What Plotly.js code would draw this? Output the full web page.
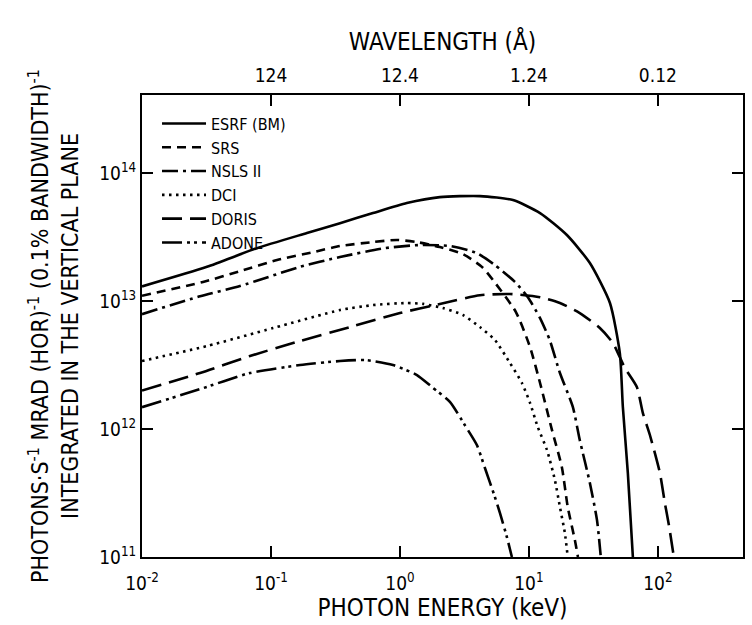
<!DOCTYPE html>
<html><head><meta charset="utf-8">
<script src="https://cdn.plot.ly/plotly-3.0.1.min.js"></script>
<style>html,body{margin:0;padding:0;background:#fff}</style>
</head><body><div id="chart" style="width:752px;height:625px"></div>
<script>
// Source names (legend)
const sourceNames = ['ESRF (BM)', 'SRS', 'NSLS II', 'DCI', 'DORIS', 'ADONE'];

// Photon energy (keV) and flux (photons s^-1 mrad^-1 (0.1% bw)^-1)
const esrfEnergy = [0.01, 0.0319, 0.0779, 0.190, 0.343, 0.618, 1.13, 2.04, 4.17, 7.52, 12.2, 19.7, 29.7, 42.5, 50.7, 53.5, 58.5, 64.0];
const esrfFlux   = [1.30e13, 1.85e13, 2.59e13, 3.40e13, 4.06e13, 4.87e13, 5.83e13, 6.49e13, 6.61e13, 6.15e13, 4.87e13, 3.28e13, 1.98e13, 9.65e12, 3.92e12, 1.49e12, 4.53e11, 1.0e11];

const srsEnergy = [0.01, 0.0297, 0.0575, 0.1115, 0.212, 0.343, 0.618, 0.948, 1.355, 2.04, 3.08, 4.32, 5.26, 7.93, 10.2, 12.2, 15.1, 18.0, 20.0, 22.7, 24.0];
const srsFlux   = [1.10e13, 1.41e13, 1.71e13, 2.09e13, 2.41e13, 2.69e13, 2.89e13, 3.00e13, 2.89e13, 2.64e13, 2.33e13, 1.85e13, 1.46e13, 8.2e12, 4.37e12, 2.29e12, 9.8e11, 5.05e11, 2.46e11, 1.36e11, 1.0e11];

const nslsEnergy = [0.01, 0.0282, 0.0575, 0.168, 0.343, 0.766, 1.43, 2.44, 3.95, 5.45, 7.79, 9.82, 12.2, 14.5, 17.4, 21.9, 24.8, 29.7, 33.7, 36.1];
const nslsFlux   = [7.9e12, 1.09e13, 1.31e13, 1.85e13, 2.21e13, 2.59e13, 2.74e13, 2.69e13, 2.37e13, 1.91e13, 1.41e13, 1.07e13, 7.36e12, 4.96e12, 2.74e12, 1.49e12, 8.2e11, 3.79e11, 1.95e11, 1.0e11];

const dciEnergy = [0.01, 0.0319, 0.1038, 0.343, 0.618, 1.13, 1.51, 2.15, 3.08, 4.17, 5.45, 7.13, 8.83, 10.2, 11.7, 13.8, 15.9, 17.4, 19.0, 20.0];
const dciFlux   = [3.4e12, 4.45e12, 6.15e12, 8.5e12, 9.3e12, 9.65e12, 9.5e12, 8.82e12, 7.78e12, 6.26e12, 4.96e12, 3.28e12, 2.29e12, 1.60e12, 1.04e12, 6.86e11, 4.0e11, 2.46e11, 1.54e11, 1.0e11];

const dorisEnergy = [0.01, 0.0282, 0.0687, 0.168, 0.409, 1.0, 2.04, 4.17, 7.13, 12.2, 17.4, 24.8, 35.5, 44.8, 55.5, 68.7, 76.5, 86.7, 103.7, 113.3, 121.7, 133];
const dorisFlux   = [2.0e12, 2.74e12, 3.72e12, 4.87e12, 6.26e12, 8.06e12, 9.48e12, 1.11e13, 1.135e13, 1.07e13, 9.65e12, 8.06e12, 6.15e12, 4.70e12, 3.0e12, 2.13e12, 1.33e12, 8.98e11, 4.53e11, 2.64e11, 1.78e11, 1.0e11];

const adoneEnergy = [0.01, 0.0282, 0.0687, 0.168, 0.343, 0.536, 0.883, 1.355, 1.77, 2.44, 3.19, 3.95, 4.56, 5.45, 5.96, 6.75, 7.38];
const adoneFlux   = [1.48e12, 2.05e12, 2.74e12, 3.16e12, 3.40e12, 3.46e12, 3.16e12, 2.64e12, 2.13e12, 1.63e12, 1.07e12, 7.5e11, 4.96e11, 2.94e11, 2.21e11, 1.43e11, 1.0e11];

// Axis ticks
const energyTickVals = [0.01, 0.1, 1, 10, 100];
const energyTickText = ['10<sup>-2</sup>', '10<sup>-1</sup>', '10<sup>0</sup>', '10<sup>1</sup>', '10<sup>2</sup>'];
const fluxTickVals = [1e11, 1e12, 1e13, 1e14];
const fluxTickText = ['10<sup>11</sup>', '10<sup>12</sup>', '10<sup>13</sup>', '10<sup>14</sup>'];
const wavelengthTickVals = [0.1, 1, 10, 100];
const wavelengthTickText = ['124', '12.4', '1.24', '0.12'];

const FONT = '"DejaVu Sans Condensed", "Liberation Sans Narrow", "DejaVu Sans", sans-serif';

const energies = [esrfEnergy, srsEnergy, nslsEnergy, dciEnergy, dorisEnergy, adoneEnergy];
const fluxes = [esrfFlux, srsFlux, nslsFlux, dciFlux, dorisFlux, adoneFlux];
const dashes = ['solid', '9px,6px', '16px,5px,3px,5px', '2.5px,4.5px', '20px,8px', '20px,5px,3px,4px,3px,5px'];

const traces = sourceNames.map((name, i) => ({
  x: energies[i], y: fluxes[i], name: name, type: 'scatter', mode: 'lines',
  line: {color: '#000', width: 2.6, dash: dashes[i], shape: 'spline', smoothing: 0.6},
  hoverinfo: 'name'
}));
// carrier for the top wavelength axis
traces.push({x: esrfEnergy, y: esrfFlux, xaxis: 'x2', yaxis: 'y', mode: 'lines',
  line: {width: 0, color: 'rgba(0,0,0,0)'}, showlegend: false, hoverinfo: 'skip'});

const layout = {
  width: 752, height: 625,
  margin: {l: 142, r: 9, t: 95, b: 68},
  paper_bgcolor: '#fff', plot_bgcolor: '#fff',
  font: {family: FONT, color: '#000', size: 18},
  showlegend: true,
  legend: {x: 0.025, y: 0.975, xanchor: 'left', yanchor: 'top', bgcolor: 'rgba(0,0,0,0)',
           font: {size: 16, family: FONT}, tracegroupgap: 0, itemwidth: 44},
  xaxis: {type: 'log', range: [-2, 2.66], tickvals: energyTickVals, ticktext: energyTickText,
          ticks: 'inside', ticklen: 11, tickwidth: 2, tickcolor: '#000',
          showline: true, linewidth: 2, linecolor: '#000', mirror: 'ticks',
          showgrid: false, zeroline: false, tickfont: {size: 19},
          ticklabelstandoff: 8,
          title: {text: 'PHOTON ENERGY (keV)', font: {size: 24}, standoff: 0}},
  xaxis2: {type: 'log', range: [-2, 2.66], overlaying: 'x', side: 'top', anchor: 'y',
           tickvals: wavelengthTickVals, ticktext: wavelengthTickText, ticks: '',
           showline: false, showgrid: false, zeroline: false, tickfont: {size: 19},
           ticklabelstandoff: 8,
           title: {text: 'WAVELENGTH (Å)', font: {size: 24}, standoff: 6}},
  yaxis: {type: 'log', range: [11, 14.61], tickvals: fluxTickVals, ticktext: fluxTickText,
          ticks: 'inside', ticklen: 11, tickwidth: 2, tickcolor: '#000',
          showline: true, linewidth: 2, linecolor: '#000', mirror: 'ticks',
          showgrid: false, zeroline: false, tickfont: {size: 19},
          title: {text: 'PHOTONS·S<sup>-1</sup> MRAD (HOR)<sup>-1</sup> (0.1% BANDWIDTH)<sup>-1</sup><br>INTEGRATED IN THE VERTICAL PLANE',
                  font: {size: 23}, standoff: 14}}
};

Plotly.newPlot('chart', traces, layout, {displayModeBar: false, staticPlot: true});
</script></body></html>
